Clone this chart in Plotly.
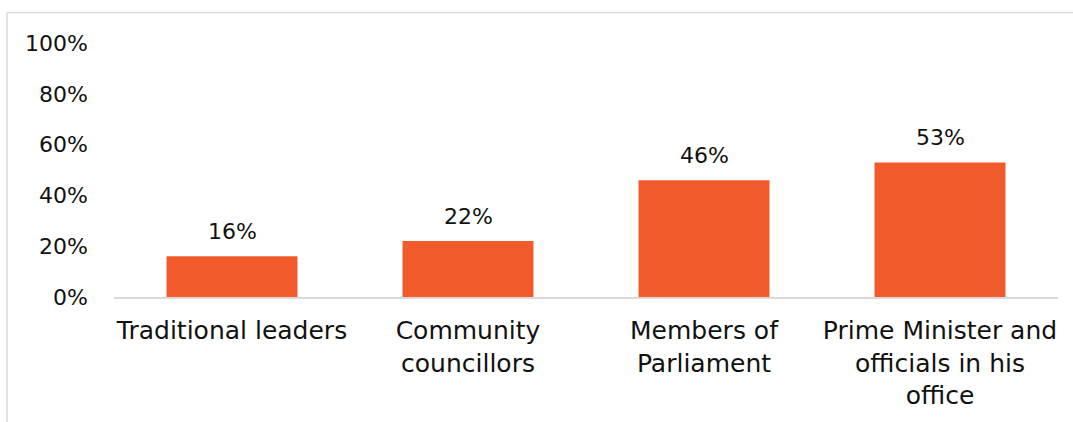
import plotly.graph_objects as go

categories = [
    "Traditional leaders",
    "Community<br>councillors",
    "Members of<br>Parliament",
    "Prime Minister and<br>officials in his<br>office",
]
values = [0.16, 0.22, 0.46, 0.53]
tick_values = [0, 0.2, 0.4, 0.6, 0.8, 1.0]
tick_labels = ["0%", "20%", "40%", "60%", "80%", "100%"]

bar_color = "#F15A2B"
line_gray = "#D9D9D9"
text_color = "#111111"
font_family = "'DejaVu Sans', sans-serif"

W, H = 1073, 422
L, R, T, B = 114, 15, 43, 125
pw, ph = W - L - R, H - T - B


def px_x(p):
    return (p - L) / pw


def px_y(p):
    return (H - B - p) / ph


fig = go.Figure(
    go.Bar(
        x=categories,
        y=values,
        marker=dict(color=bar_color, line=dict(width=0)),
        width=0.555,
        hoverinfo="skip",
    )
)

# value labels above each bar
for cat, v in zip(categories, values):
    fig.add_annotation(
        x=cat, y=v, xref="x", yref="y",
        text=f"{round(v * 100)}%",
        showarrow=False,
        yanchor="bottom",
        yshift=10,
        font=dict(size=22, color=text_color, family=font_family),
    )

fig.update_layout(
    width=W,
    height=H,
    margin=dict(l=L, r=R, t=T, b=B),
    paper_bgcolor="white",
    plot_bgcolor="white",
    showlegend=False,
    font=dict(family=font_family, size=22, color=text_color),
    xaxis=dict(
        showline=True,
        linecolor=line_gray,
        linewidth=2,
        showgrid=False,
        ticks="",
        ticklabelstandoff=10,
        tickfont=dict(size=25),
    ),
    yaxis=dict(
        range=[0, 1],
        tickvals=tick_values,
        ticktext=tick_labels,
        showgrid=False,
        showline=False,
        zeroline=False,
        ticks="",
        ticklabelstandoff=25,
        tickfont=dict(size=22),
    ),
    shapes=[
        dict(type="line", xref="paper", yref="paper",
             x0=px_x(7), x1=px_x(1073), y0=px_y(12.5), y1=px_y(12.5),
             line=dict(color=line_gray, width=1.5)),
        dict(type="line", xref="paper", yref="paper",
             x0=px_x(7), x1=px_x(7), y0=px_y(12.5), y1=px_y(422),
             line=dict(color=line_gray, width=1.5)),
    ],
)

fig.write_html("out.html")
